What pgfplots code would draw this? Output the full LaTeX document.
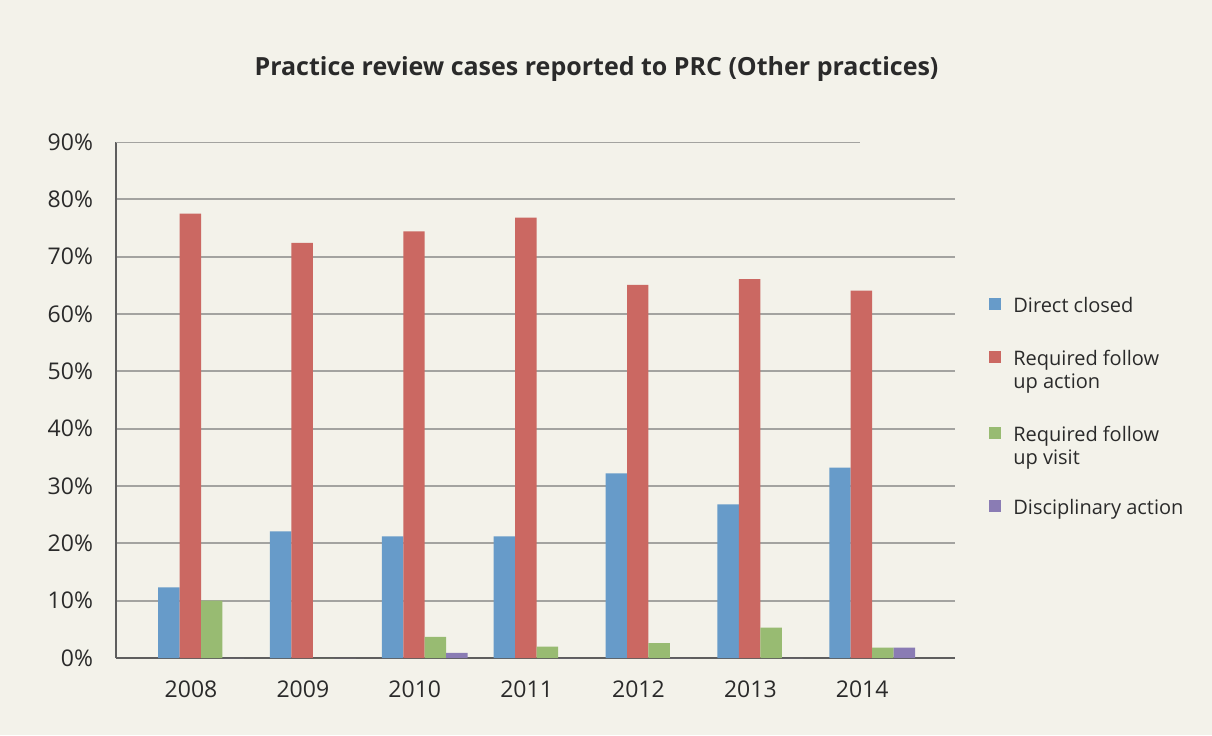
\documentclass[border=0pt]{standalone}
\usepackage{pgfplots}
\pgfplotsset{compat=1.18}
\usepackage{fontspec}
\setmainfont{Open Sans}
\definecolor{bg}{HTML}{F3F2EA}
\definecolor{cblue}{HTML}{679BC9}
\definecolor{cred}{HTML}{CB6862}
\definecolor{cgreen}{HTML}{98BB72}
\definecolor{cpurple}{HTML}{8A7CB4}
\definecolor{gridc}{HTML}{A3A3A0}
\definecolor{axc}{HTML}{5E5E5E}
\definecolor{txt}{HTML}{2A2A2A}
\begin{document}
\begin{tikzpicture}
\fill[bg] (0,0) rectangle (606pt,367.5pt);
\node[anchor=base, font=\bfseries\fontsize{12.5}{15}\selectfont, text=txt] at (298.25pt,329.5pt) {Practice review cases reported to PRC (Other practices)};
\begin{axis}[
  at={(58pt,38.5pt)}, anchor=south west,
  scale only axis, width=419.5pt, height=258pt,
  xmin=-0.76, xmax=6.74, ymin=0, ymax=90,
  axis x line=bottom, axis y line=left,
  axis line style={-, draw=axc, line width=1pt},
  ybar=0pt, bar width=0.192,
  xtick={0,1,2,3,4,5,6},
  xticklabels={2008,2009,2010,2011,2012,2013,2014},
  ytick={0,10,...,80},
  yticklabel={\pgfmathprintnumber[assume math mode=true]{\tick}\%},
  extra y ticks={90}, extra y tick labels={90\%},
  extra y tick style={ymajorgrids=false},
  ymajorgrids=true,
  grid style={draw=gridc, line width=1pt},
  major tick length=0pt,
  tick label style={font=\fontsize{11.5}{13}\selectfont, text=txt},
  xticklabel style={yshift=-7.7pt, xshift=-5pt},
  yticklabel style={xshift=-8pt},
  legend style={at={(1.0405,0.7016)}, anchor=north west, draw=none, fill=none,
    inner sep=0pt, row sep=15pt, column sep=6pt,
    font=\fontsize{10}{11.5}\selectfont, text=txt, nodes={inner sep=0pt},
    cells={anchor=base west}},
  legend image code/.code={\fill[#1] (0pt,1.1pt) rectangle (6pt,7.1pt);},
]
\addplot[fill=cblue, draw=none] coordinates {(0,12.3) (1,22.1) (2,21.2) (3,21.2) (4,32.2) (5,26.8) (6,33.2)};
\addplot[fill=cred, draw=none] coordinates {(0,77.5) (1,72.4) (2,74.4) (3,76.8) (4,65.1) (5,66.1) (6,64.1)};
\addplot[fill=cgreen, draw=none] coordinates {(0,10.0) (1,0) (2,3.7) (3,2.0) (4,2.6) (5,5.3) (6,1.8)};
\addplot[fill=cpurple, draw=none] coordinates {(0,0) (1,0) (2,0.9) (3,0) (4,0) (5,0) (6,1.8)};
\addlegendentry[text height=8.05pt, text depth=3.45pt]{Direct closed}
\addlegendentry[text height=8.05pt, text depth=14.95pt]{\begin{tabular}[t]{@{}l@{}}Required follow\\up action\end{tabular}}
\addlegendentry[text height=8.05pt, text depth=13.45pt]{\begin{tabular}[t]{@{}l@{}}Required follow\\up visit\end{tabular}}
\addlegendentry[text height=8.05pt, text depth=3.45pt]{Disciplinary action}
\draw[draw=gridc, line width=1pt] (axis cs:-0.76,90) -- (axis cs:5.89,90);
\end{axis}
\end{tikzpicture}
\end{document}
